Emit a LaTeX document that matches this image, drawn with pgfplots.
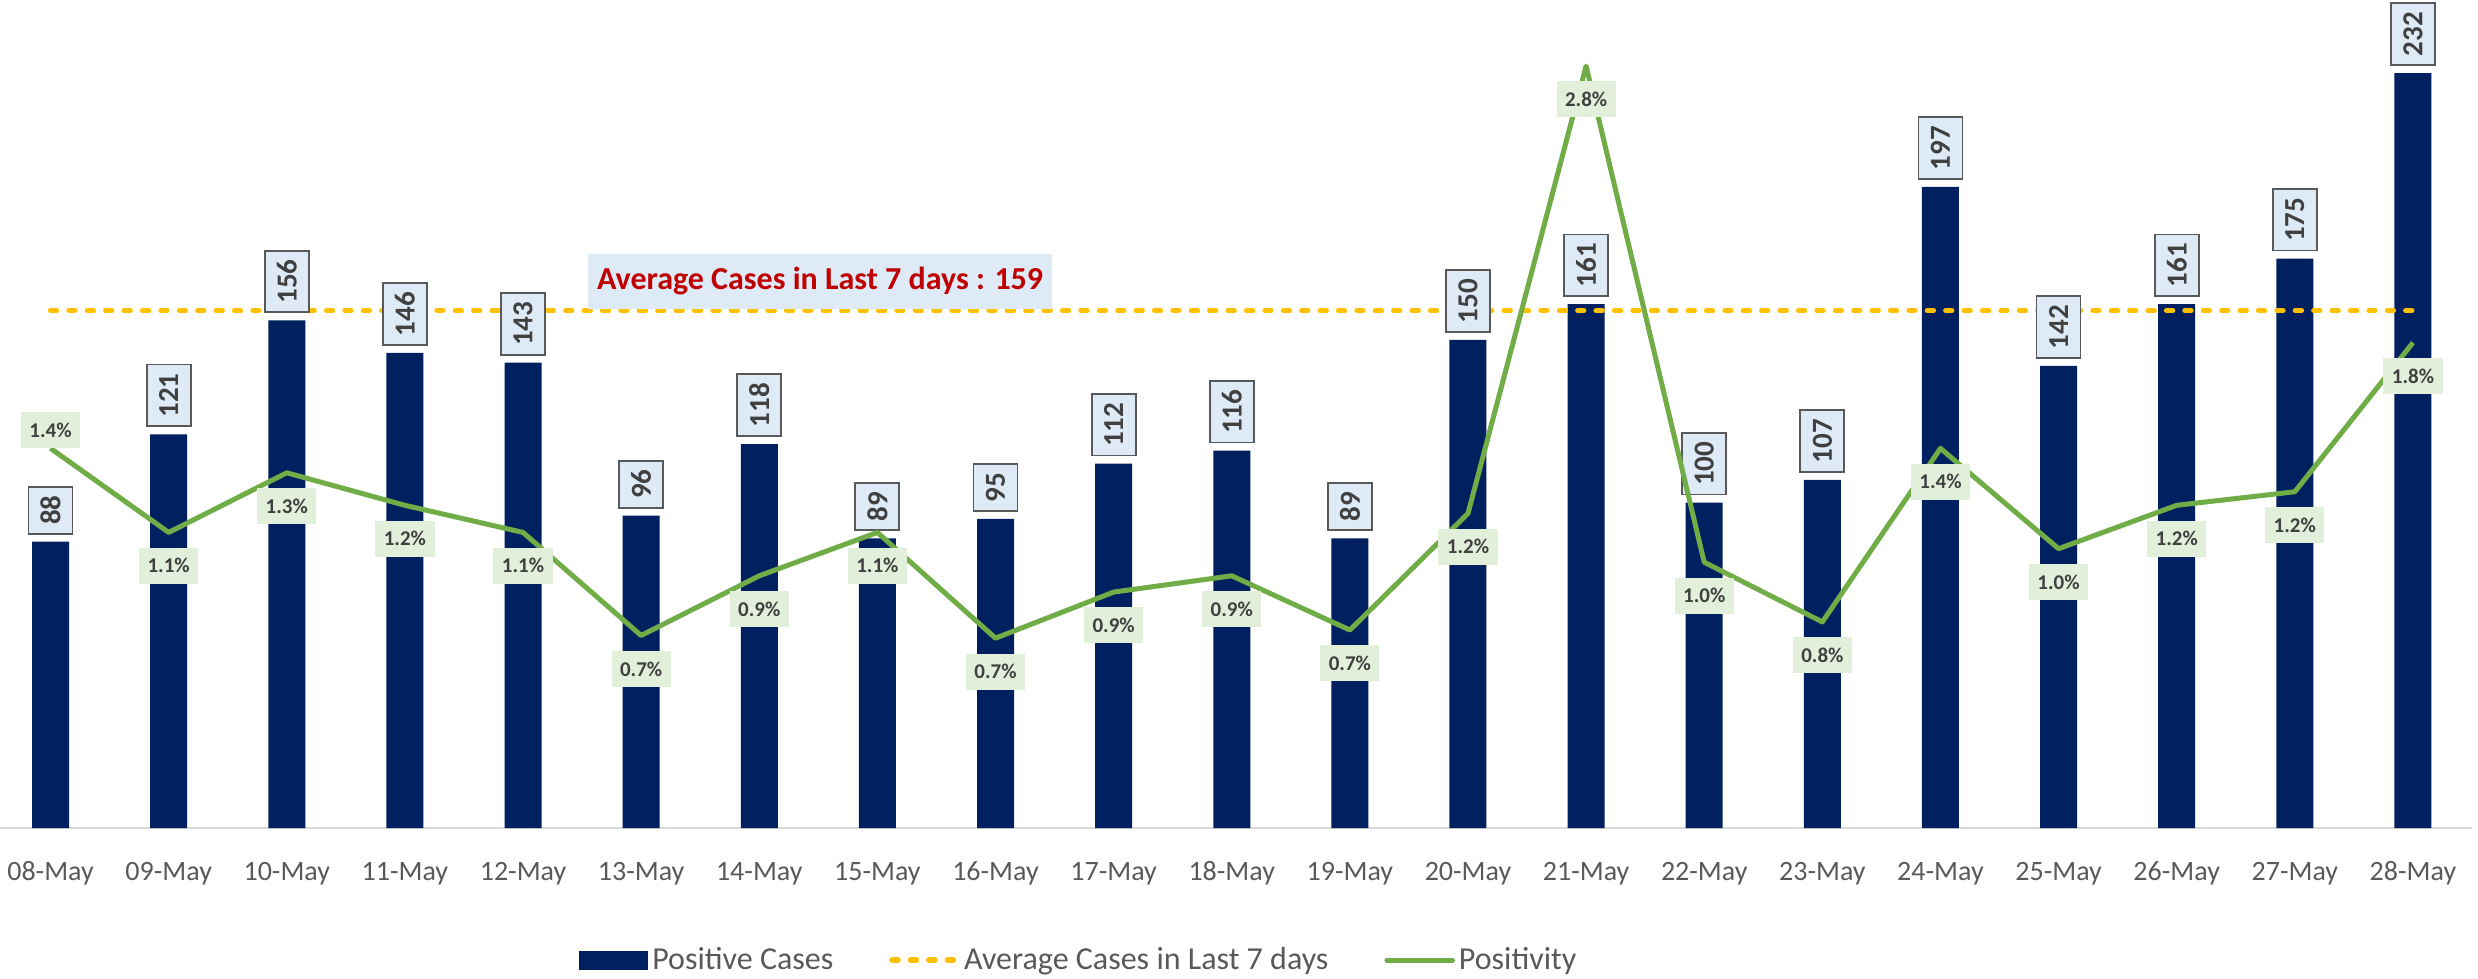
\documentclass[border=0pt]{standalone}
\usepackage{pgfplots}
\usepackage{pgfplotstable}
\pgfplotsset{compat=1.18}
\usepackage{fontspec}
\setmainfont{Carlito}
\definecolor{barblue}{HTML}{002060}
\definecolor{lblfill}{HTML}{DEEBF7}
\definecolor{lbldraw}{HTML}{595959}
\definecolor{txtdark}{HTML}{404040}
\definecolor{gray59}{HTML}{595959}
\definecolor{avgorange}{HTML}{FFC000}
\definecolor{posgreen}{HTML}{70AD47}
\definecolor{posfill}{HTML}{E2EFDA}
\definecolor{avgred}{HTML}{C00000}
\definecolor{axisgray}{HTML}{D9D9D9}

\pgfplotstableread{
x cases
0 88
1 121
2 156
3 146
4 143
5 96
6 118
7 89
8 95
9 112
10 116
11 89
12 150
13 161
14 100
15 107
16 197
17 142
18 161
19 175
20 232
}\casestable

\pgfplotstableread{
x pos lbl
0 1.40 1.4
1 1.09 1.1
2 1.31 1.3
3 1.19 1.2
4 1.09 1.1
5 0.71 0.7
6 0.93 0.9
7 1.09 1.1
8 0.70 0.7
9 0.87 0.9
10 0.93 0.9
11 0.73 0.7
12 1.16 1.2
13 2.81 2.8
14 0.98 1.0
15 0.76 0.8
16 1.40 1.4
17 1.03 1.0
18 1.19 1.2
19 1.24 1.2
20 1.79 1.8
}\postable

\begin{document}
\begin{tikzpicture}
\pgfplotsset{
  common/.style={
    at={(0pt,0pt)}, anchor=south west, scale only axis,
    width=1240.25pt, height=406.75pt,
    xmin=-0.5, xmax=20.5, clip=false,
  }
}
\begin{axis}[common, ymin=0, ymax=250,
  axis y line=none, axis x line*=bottom,
  x axis line style={draw=axisgray, line width=1pt, -},
  xtick={0,...,20},
  xticklabels={08-May,09-May,10-May,11-May,12-May,13-May,14-May,15-May,16-May,17-May,18-May,19-May,20-May,21-May,22-May,23-May,24-May,25-May,26-May,27-May,28-May},
  major tick length=0pt,
  xticklabel style={font=\fontsize{14}{16}\selectfont, text=gray59, anchor=base, yshift=-26pt},
  /pgf/number format/assume math mode=true,
]
\addplot[ybar, bar width=18.5pt, fill=barblue, draw=none,
  nodes near coords,
  every node near coord/.append style={rotate=90, anchor=west, fill=lblfill, draw=lbldraw,
    line width=0.9pt, text=txtdark, font=\fontsize{14.5}{16}\selectfont\bfseries,
    inner xsep=4.4pt, inner ysep=0pt, minimum height=22pt, outer xsep=4pt}
] table[x=x,y=cases]{\casestable};
\addplot[avgorange, line width=2.7pt, line cap=round, dash pattern=on 3pt off 6.2pt]
  coordinates {(0,159) (20,159)};
\node[anchor=south, fill=lblfill, text=avgred, font=\fontsize{16}{19}\selectfont\bfseries,
  inner xsep=4.5pt, inner ysep=0pt, minimum height=27.25pt, yshift=0.8pt]
  at (axis cs:6.515,159) {Average Cases in Last 7 days : 159};
\end{axis}

\begin{axis}[common, ymin=0, ymax=3, hide axis,
  legend columns=3,
  legend style={at={(0.4388,-0.1623)}, anchor=center, draw=none, fill=none,
    font=\fontsize{16}{19}\selectfont, text=gray59,
    /tikz/every even column/.append style={column sep=26pt},
    nodes={inner xsep=2pt}},
  legend cell align=left,
]
\addlegendimage{legend image code/.code={\fill[barblue] (0pt,-4.5pt) rectangle (34pt,4.5pt);}}
\addlegendentry{Positive Cases}
\addlegendimage{legend image code/.code={\draw[avgorange, line width=2.7pt, line cap=round, dash pattern=on 3pt off 6.2pt] (1.35pt,0pt) -- (34pt,0pt);}}
\addlegendentry{Average Cases in Last 7 days}
\addplot[posgreen, line width=2.5pt, line join=round,
  legend image code/.code={\draw[posgreen, line width=2.5pt, line cap=round] (1.25pt,0pt) -- (34pt,0pt);}]
  table[x=x,y=pos]{\postable};
\addlegendentry{Positivity}
\addplot[draw=none, forget plot, point meta=explicit symbolic,
  skip coords between index={0}{1},
  nodes near coords={\pgfplotspointmeta\%},
  every node near coord/.append style={anchor=north, yshift=-7.5pt, fill=posfill, text=txtdark,
    font=\fontsize{10.5}{12}\selectfont\bfseries, inner xsep=4.25pt, inner ysep=0pt, minimum height=18pt}]
  table[x=x,y=pos,meta=lbl]{\postable};
\addplot[draw=none, forget plot, point meta=explicit symbolic,
  skip coords between index={1}{21},
  nodes near coords={\pgfplotspointmeta\%},
  every node near coord/.append style={anchor=south, fill=posfill, text=txtdark,
    font=\fontsize{10.5}{12}\selectfont\bfseries, inner xsep=4.25pt, inner ysep=0pt, minimum height=18pt}]
  table[x=x,y=pos,meta=lbl]{\postable};
\end{axis}
\pgfresetboundingbox
\path (4.25pt,-75.5pt) rectangle (1243.25pt,414pt);
\end{tikzpicture}
\end{document}
